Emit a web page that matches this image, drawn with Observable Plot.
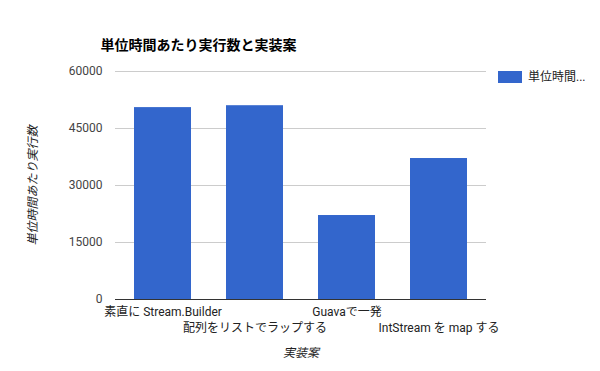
<!DOCTYPE html>
<html>
<head>
<meta charset="utf-8">
<script src="https://cdn.jsdelivr.net/npm/d3@7"></script>
<script src="https://cdn.jsdelivr.net/npm/@observablehq/plot@0.6"></script>
<style>
  html, body { margin: 0; padding: 0; background: #fff; }
  #wrap { position: relative; width: 600px; height: 371px; font-family: Roboto, "Noto Sans CJK JP", sans-serif; }
  #legend { position: absolute; left: 498px; top: 71px; display: flex; align-items: center; font-size: 12px; color: #222; line-height: 12px; }
  #legend .sw { width: 24px; height: 12px; background: #3366cc; margin-right: 6px; }
</style>
</head>
<body>
<div id="wrap"><div id="legend"><div class="sw"></div><span>単位時間...</span></div></div>
<script>
const categories = ["素直に Stream.Builder", "配列をリストでラップする", "Guavaで一発", "IntStream を map する"];
const values = [50500, 51000, 22100, 37100];
const yTicks = [0, 15000, 30000, 45000, 60000];
const title = "単位時間あたり実行数と実装案";
const xTitle = "実装案";
const yTitle = "単位時間あたり実行数";
const seriesName = "単位時間...";

const data = categories.map((c, i) => ({category: c, value: values[i]}));
const font = "Roboto, Noto Sans CJK JP, sans-serif";

const chart = Plot.plot({
  width: 600,
  height: 371,
  marginLeft: 115,
  marginRight: 114,
  marginTop: 71,
  marginBottom: 72,
  style: {fontFamily: font, fontSize: "12px", background: "#fff", color: "#222"},
  x: {domain: categories, paddingInner: 0.38, paddingOuter: 0.19, align: 0.5, axis: null},
  y: {domain: [0, 60000], axis: null},
  marks: [
    Plot.gridY(yTicks, {stroke: "#cccccc", strokeOpacity: 1}),
    Plot.barY(data, {x: "category", y: "value", fill: "#3366cc"}),
    Plot.ruleY([0], {stroke: "#333333", strokeWidth: 1}),
    Plot.axisY(yTicks, {tickSize: 0, tickPadding: 13, tickFormat: d => String(d), fill: "#444", fontSize: 12, label: null}),
    Plot.axisX(categories.filter((d, i) => i % 2 === 0), {tickSize: 0, tickPadding: 8, fill: "#222", fontSize: 12, label: null}),
    Plot.axisX(categories.filter((d, i) => i % 2 === 1), {tickSize: 0, tickPadding: 24, fill: "#222", fontSize: 12, label: null}),
    Plot.text([xTitle], {frameAnchor: "bottom", dy: 54, fontStyle: "italic", fill: "#222", fontSize: 12, lineAnchor: "middle"}),
    Plot.text([yTitle], {frameAnchor: "left", dx: -82, rotate: -90, textAnchor: "middle", fontStyle: "italic", fill: "#222", fontSize: 12, lineAnchor: "middle"}),
    Plot.text([title], {frameAnchor: "top-left", dx: -15, dy: -26, textAnchor: "start", lineAnchor: "middle", fontWeight: "bold", fontSize: 14, fill: "#000"})
  ]
});
document.getElementById("wrap").prepend(chart);
</script>
</body>
</html>
